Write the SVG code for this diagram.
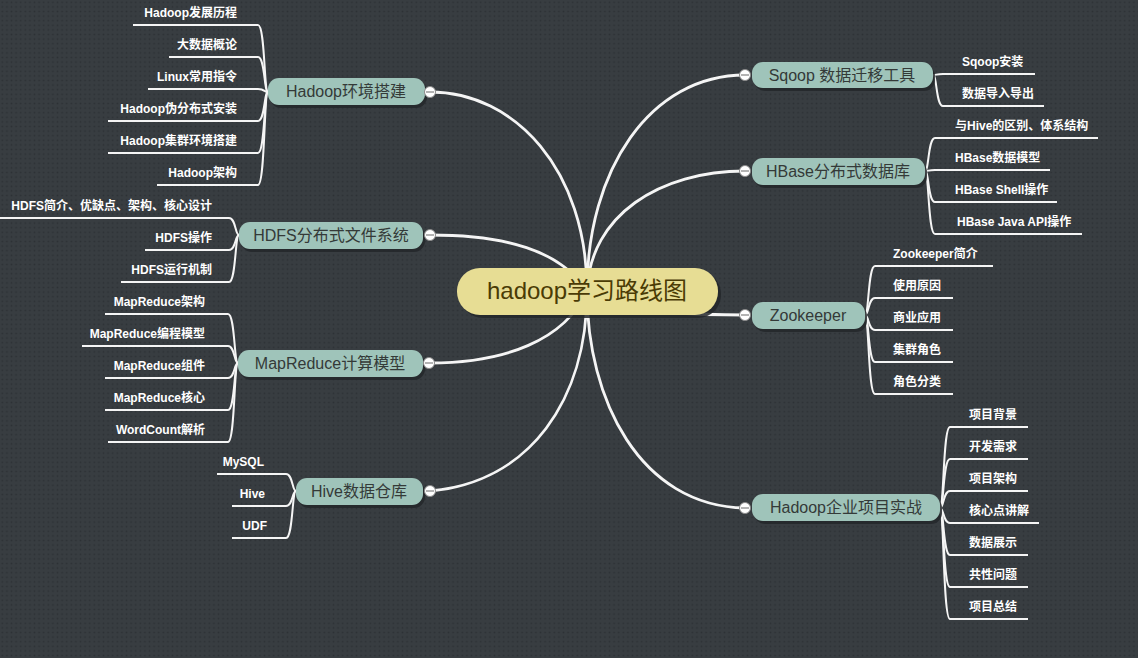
<svg xmlns="http://www.w3.org/2000/svg" width="1138" height="658" viewBox="0 0 1138 658">
<defs>
<pattern id="dots" width="4.6" height="4.6" patternUnits="userSpaceOnUse">
<rect width="4.6" height="4.6" fill="#383d41"/>
<rect x="1.5" y="1.5" width="1.6" height="1.6" fill="#2d3135"/>
</pattern>
<style>
.main{fill:none;stroke:#f5f5f5;stroke-width:2.8;stroke-linecap:round}
.sub{fill:none;stroke:#f5f5f5;stroke-width:2;stroke-linecap:butt}
.br rect.b{fill:#9fc4ba}
.sh{fill:#23272a;opacity:0.85}
.bt{font-family:"Liberation Sans","Noto Sans CJK SC",sans-serif;font-size:16px;fill:#343a38;text-anchor:middle}
.lt{font-family:"Liberation Sans","Noto Sans CJK SC",sans-serif;font-size:12px;font-weight:bold;fill:#ffffff}
.le{text-anchor:end}
.cc{fill:#ffffff;stroke:#8a8a8a;stroke-width:1}
.cm{stroke:#8a8a8a;stroke-width:1.3}
</style>
</defs>
<rect width="1138" height="658" fill="url(#dots)"/>

<g id="connectors">
<path class="main" d="M430,92 C515,92 587,170 587,291"/>
<path class="main" d="M430,235 C505,235 560,250 587,291"/>
<path class="main" d="M430,363 C505,363 565,340 587,291"/>
<path class="main" d="M430,491 C530,482 587,400 587,291"/>
<path class="main" d="M745,75 C650,75 587,170 587,291"/>
<path class="main" d="M745,171 C660,171 590,215 587,291"/>
<path class="main" d="M600,305 C650,313 700,315 745,315"/>
<path class="main" d="M745,508 C640,506 587,400 587,291"/>

<path class="sub" d="M268,92 C264,92 265,25 258,25 H133"/>
<path class="sub" d="M268,92 C264,92 265,57 258,57 H169"/>
<path class="sub" d="M268,92 C264,92 265,89 258,89 H148"/>
<path class="sub" d="M268,92 C264,92 265,121 258,121 H108"/>
<path class="sub" d="M268,92 C264,92 265,153 258,153 H108"/>
<path class="sub" d="M268,92 C264,92 265,185 258,185 H157"/>

<path class="sub" d="M239,235 C235,235 236,218 229,218 H0"/>
<path class="sub" d="M239,235 C235,235 236,250 229,250 H145"/>
<path class="sub" d="M239,235 C235,235 236,282 229,282 H121"/>

<path class="sub" d="M238,363 C234,363 235,314 228,314 H105"/>
<path class="sub" d="M238,363 C234,363 235,346 228,346 H82"/>
<path class="sub" d="M238,363 C234,363 235,378 228,378 H105"/>
<path class="sub" d="M238,363 C234,363 235,410 228,410 H105"/>
<path class="sub" d="M238,363 C234,363 235,442 228,442 H108"/>

<path class="sub" d="M296,491 C292,491 293,474 286,474 H217"/>
<path class="sub" d="M296,491 C292,491 293,506 286,506 H232"/>
<path class="sub" d="M296,491 C292,491 293,538 286,538 H232"/>

<path class="sub" d="M933,75 C937,75 936,74 943,74 H1035"/>
<path class="sub" d="M933,75 C937,75 936,106 943,106 H1044"/>

<path class="sub" d="M925,171 C929,171 928,138 935,138 H1098"/>
<path class="sub" d="M925,171 C929,171 928,170 935,170 H1050"/>
<path class="sub" d="M925,171 C929,171 928,202 935,202 H1057"/>
<path class="sub" d="M925,171 C929,171 928,234 935,234 H1082"/>

<path class="sub" d="M865,315 C869,315 868,266 875,266 H993"/>
<path class="sub" d="M865,315 C869,315 868,298 875,298 H953"/>
<path class="sub" d="M865,315 C869,315 868,330 875,330 H953"/>
<path class="sub" d="M865,315 C869,315 868,362 875,362 H953"/>
<path class="sub" d="M865,315 C869,315 868,394 875,394 H953"/>

<path class="sub" d="M940,508 C944,508 943,427 950,427 H1028"/>
<path class="sub" d="M940,508 C944,508 943,459 950,459 H1028"/>
<path class="sub" d="M940,508 C944,508 943,491 950,491 H1028"/>
<path class="sub" d="M940,508 C944,508 943,523 950,523 H1039"/>
<path class="sub" d="M940,508 C944,508 943,555 950,555 H1028"/>
<path class="sub" d="M940,508 C944,508 943,587 950,587 H1028"/>
<path class="sub" d="M940,508 C944,508 943,619 950,619 H1028"/>
</g>

<g id="root">
<rect class="sh" x="460" y="271" width="261" height="47" rx="23"/>
<rect x="457" y="268" width="261" height="47" rx="23" fill="#e7dd94"/>
<text x="587" y="299" font-family="Liberation Sans,'Noto Sans CJK SC',sans-serif" font-size="24" fill="#4a3b05" text-anchor="middle">hadoop学习路线图</text>
</g>

<g id="n-hadoop-env" class="br">
<rect class="sh" x="270" y="81" width="157" height="27" rx="11"/>
<rect class="b" x="268" y="78" width="157" height="27" rx="11"/>
<text class="bt" x="346" y="97">Hadoop环境搭建</text>
<circle class="cc" cx="430" cy="92" r="5.5"/><line class="cm" x1="426" y1="92" x2="434" y2="92"/>
</g>
<g id="n-hdfs" class="br">
<rect class="sh" x="241" y="225" width="184" height="27" rx="11"/>
<rect class="b" x="239" y="222" width="184" height="27" rx="11"/>
<text class="bt" x="331" y="241">HDFS分布式文件系统</text>
<circle class="cc" cx="430" cy="235" r="5.5"/><line class="cm" x1="426" y1="235" x2="434" y2="235"/>
</g>
<g id="n-mapreduce" class="br">
<rect class="sh" x="240" y="353" width="185" height="27" rx="11"/>
<rect class="b" x="238" y="350" width="185" height="27" rx="11"/>
<text class="bt" x="330" y="369">MapReduce计算模型</text>
<circle class="cc" cx="429" cy="363" r="5.5"/><line class="cm" x1="425" y1="363" x2="433" y2="363"/>
</g>
<g id="n-hive" class="br">
<rect class="sh" x="298" y="481" width="127" height="27" rx="11"/>
<rect class="b" x="296" y="478" width="127" height="27" rx="11"/>
<text class="bt" x="359" y="497">Hive数据仓库</text>
<circle class="cc" cx="430" cy="491" r="5.5"/><line class="cm" x1="426" y1="491" x2="434" y2="491"/>
</g>
<g id="n-sqoop" class="br">
<rect class="sh" x="754" y="65" width="181" height="26" rx="11"/>
<rect class="b" x="752" y="62" width="181" height="26" rx="11"/>
<text class="bt" x="842" y="81">Sqoop 数据迁移工具</text>
<circle class="cc" cx="745" cy="75" r="5.5"/><line class="cm" x1="741" y1="75" x2="749" y2="75"/>
</g>
<g id="n-hbase" class="br">
<rect class="sh" x="754" y="161" width="173" height="27" rx="11"/>
<rect class="b" x="752" y="158" width="173" height="27" rx="11"/>
<text class="bt" x="838" y="177">HBase分布式数据库</text>
<circle class="cc" cx="745" cy="171" r="5.5"/><line class="cm" x1="741" y1="171" x2="749" y2="171"/>
</g>
<g id="n-zookeeper" class="br">
<rect class="sh" x="754" y="305" width="113" height="27" rx="11"/>
<rect class="b" x="752" y="302" width="113" height="27" rx="11"/>
<text class="bt" x="808" y="321">Zookeeper</text>
<circle class="cc" cx="745" cy="315" r="5.5"/><line class="cm" x1="741" y1="315" x2="749" y2="315"/>
</g>
<g id="n-project" class="br">
<rect class="sh" x="754" y="497" width="188" height="27" rx="11"/>
<rect class="b" x="752" y="494" width="188" height="27" rx="11"/>
<text class="bt" x="846" y="513">Hadoop企业项目实战</text>
<circle class="cc" cx="745" cy="508" r="5.5"/><line class="cm" x1="741" y1="508" x2="749" y2="508"/>
</g>

<g id="leaves-hadoop-env">
<g id="l1-1"><text class="lt le" x="237" y="17">Hadoop发展历程</text></g>
<g id="l1-2"><text class="lt le" x="237" y="49">大数据概论</text></g>
<g id="l1-3"><text class="lt le" x="237" y="81">Linux常用指令</text></g>
<g id="l1-4"><text class="lt le" x="237" y="113">Hadoop伪分布式安装</text></g>
<g id="l1-5"><text class="lt le" x="237" y="145">Hadoop集群环境搭建</text></g>
<g id="l1-6"><text class="lt le" x="237" y="177">Hadoop架构</text></g>
</g>
<g id="leaves-hdfs">
<g id="l2-1"><text class="lt le" x="212" y="210">HDFS简介、优缺点、架构、核心设计</text></g>
<g id="l2-2"><text class="lt le" x="212" y="242">HDFS操作</text></g>
<g id="l2-3"><text class="lt le" x="212" y="274">HDFS运行机制</text></g>
</g>
<g id="leaves-mapreduce">
<g id="l3-1"><text class="lt le" x="205" y="306">MapReduce架构</text></g>
<g id="l3-2"><text class="lt le" x="205" y="338">MapReduce编程模型</text></g>
<g id="l3-3"><text class="lt le" x="205" y="370">MapReduce组件</text></g>
<g id="l3-4"><text class="lt le" x="205" y="402">MapReduce核心</text></g>
<g id="l3-5"><text class="lt le" x="205" y="434">WordCount解析</text></g>
</g>
<g id="leaves-hive">
<g id="l4-1"><text class="lt le" x="264" y="466">MySQL</text></g>
<g id="l4-2"><text class="lt le" x="265" y="498">Hive</text></g>
<g id="l4-3"><text class="lt le" x="267" y="530">UDF</text></g>
</g>
<g id="leaves-sqoop">
<g id="l5-1"><text class="lt" x="962" y="66">Sqoop安装</text></g>
<g id="l5-2"><text class="lt" x="962" y="98">数据导入导出</text></g>
</g>
<g id="leaves-hbase">
<g id="l6-1"><text class="lt" x="955" y="130">与Hive的区别、体系结构</text></g>
<g id="l6-2"><text class="lt" x="955" y="162">HBase数据模型</text></g>
<g id="l6-3"><text class="lt" x="955" y="194">HBase Shell操作</text></g>
<g id="l6-4"><text class="lt" x="957" y="226">HBase Java API操作</text></g>
</g>
<g id="leaves-zookeeper">
<g id="l7-1"><text class="lt" x="893" y="258">Zookeeper简介</text></g>
<g id="l7-2"><text class="lt" x="893" y="290">使用原因</text></g>
<g id="l7-3"><text class="lt" x="893" y="322">商业应用</text></g>
<g id="l7-4"><text class="lt" x="893" y="354">集群角色</text></g>
<g id="l7-5"><text class="lt" x="893" y="386">角色分类</text></g>
</g>
<g id="leaves-project">
<g id="l8-1"><text class="lt" x="969" y="419">项目背景</text></g>
<g id="l8-2"><text class="lt" x="969" y="451">开发需求</text></g>
<g id="l8-3"><text class="lt" x="969" y="483">项目架构</text></g>
<g id="l8-4"><text class="lt" x="969" y="515">核心点讲解</text></g>
<g id="l8-5"><text class="lt" x="969" y="547">数据展示</text></g>
<g id="l8-6"><text class="lt" x="969" y="579">共性问题</text></g>
<g id="l8-7"><text class="lt" x="969" y="611">项目总结</text></g>
</g>
</svg>
